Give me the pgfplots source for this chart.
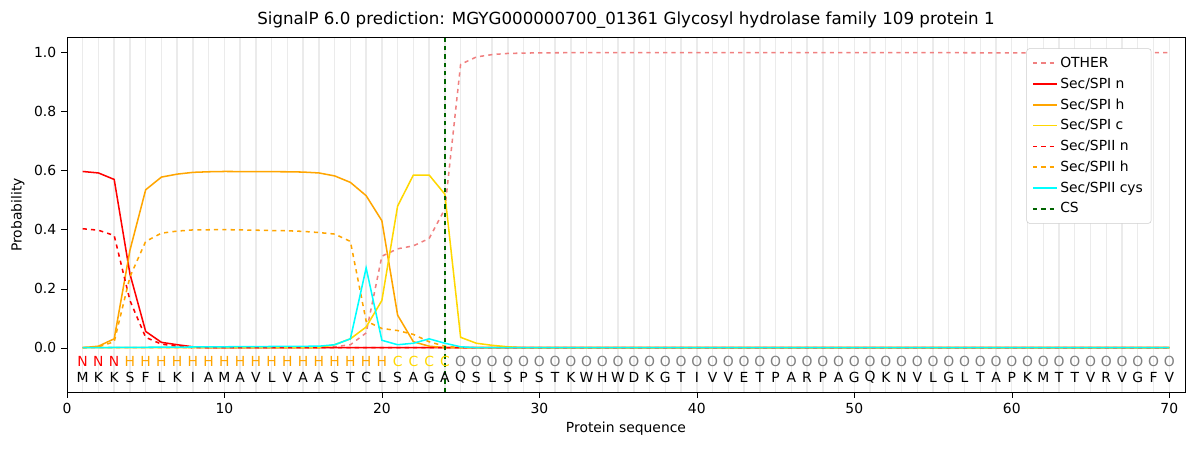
\documentclass[border=0pt]{standalone}
\usepackage{pgfplots}
\pgfplotsset{compat=1.18}
\usepackage{fontspec}
\setmainfont{DejaVu Sans}
\definecolor{cother}{HTML}{F08080}
\definecolor{corange}{HTML}{FFA500}
\definecolor{cgold}{HTML}{FFD700}
\definecolor{ccyan}{HTML}{00FFFF}
\definecolor{ccs}{HTML}{006400}
\begin{document}
\begin{tikzpicture}
\useasboundingbox (-48.2pt,-41.8pt) rectangle (815.8pt,282.2pt);
\begin{axis}[
  at={(0,0)}, anchor=south west, scale only axis,
  width=805pt, height=255pt,
  xmin=0, xmax=71, ymin=-0.15, ymax=1.05,
  xtick={0,10,...,70}, ytick={0,0.2,...,1.0},
  extra x ticks={1,...,70}, extra x tick labels={},
  extra x tick style={grid=major, major grid style={black!8, line width=1pt}, major tick length=0pt},
  yticklabel style={/pgf/number format/.cd,fixed,fixed zerofill,precision=1},
  /pgf/number format/assume math mode=true,
  tick label style={font=\fontsize{10}{12}\selectfont},
  tick align=outside, tick style={black}, xtick pos=bottom, ytick pos=left,
  xlabel={Protein sequence}, ylabel={Probability},
  xlabel style={yshift=5pt},
  label style={font=\fontsize{10}{12}\selectfont},
  title={SignalP 6.0 prediction: MGYG000000700\_01361 Glycosyl hydrolase family 109 protein 1},
  title style={font=\fontsize{12}{14}\selectfont, yshift=-3pt},
  legend pos=north east,
  legend style={font=\fontsize{10}{12}\selectfont, draw=black!20, rounded corners=2pt, row sep=2pt, inner sep=4pt},
  legend cell align=left,
  every axis plot/.append style={line width=1.1pt},
  clip=false,
]
\addplot[cother, dashed] coordinates {(1,0)(2,0)(3,0)(4,0)(5,0)(6,0)(7,0)(8,0)(9,0)(10,0)(11,0)(12,0)(13,0)(14,0)(15,0)(16,0)(17,0.003)(18,0.01)(19,0.05)(20,0.31)(21,0.335)(22,0.345)(23,0.37)(24,0.47)(25,0.96)(26,0.985)(27,0.993)(28,0.997)(29,0.998)(30,0.999)(35,1.0)(50,1.0)(60,0.999)(70,1.0)};
\addlegendentry{OTHER}
\addplot[red] coordinates {(1,0.597)(2,0.592)(3,0.57)(4,0.25)(5,0.055)(6,0.018)(7,0.01)(8,0.003)(9,0)(70,0)};
\addlegendentry{Sec/SPI n}
\addplot[corange] coordinates {(1,0)(2,0.005)(3,0.03)(4,0.33)(5,0.535)(6,0.578)(7,0.588)(8,0.594)(9,0.596)(10,0.597)(14,0.596)(15,0.595)(16,0.592)(17,0.582)(18,0.56)(19,0.515)(20,0.43)(21,0.11)(22,0.02)(23,0.005)(24,0)(70,0)};
\addlegendentry{Sec/SPI h}
\addplot[cgold] coordinates {(1,0)(16,0)(17,0.01)(18,0.03)(19,0.07)(20,0.16)(21,0.48)(22,0.585)(23,0.585)(24,0.52)(25,0.035)(26,0.015)(27,0.008)(28,0.003)(29,0)(70,0)};
\addlegendentry{Sec/SPI c}
\addplot[red, dashed] coordinates {(1,0.403)(2,0.398)(3,0.38)(4,0.16)(5,0.035)(6,0.012)(7,0.005)(8,0)(70,0)};
\addlegendentry{Sec/SPII n}
\addplot[corange, dashed] coordinates {(1,0)(2,0.003)(3,0.02)(4,0.24)(5,0.36)(6,0.388)(7,0.395)(8,0.399)(10,0.4)(14,0.396)(15,0.394)(16,0.39)(17,0.385)(18,0.36)(19,0.09)(20,0.065)(21,0.058)(22,0.045)(23,0.02)(24,0.005)(25,0)(70,0)};
\addlegendentry{Sec/SPII h}
\addplot[ccyan] coordinates {(1,0)(16,0.005)(17,0.01)(18,0.03)(19,0.27)(20,0.025)(21,0.01)(22,0.015)(23,0.03)(24,0.015)(25,0.003)(26,0)(70,0)};
\addlegendentry{Sec/SPII cys}
\addplot[ccs, dashed] coordinates {(24,-0.15)(24,1.05)};
\addlegendentry{CS}
\pgfplotsinvokeforeach{1,2,3}{\node[font=\fontsize{10}{12}\selectfont, text=red, inner sep=0] at (axis cs:#1,-0.047) {N};}
\pgfplotsinvokeforeach{4,...,20}{\node[font=\fontsize{10}{12}\selectfont, text=corange, inner sep=0] at (axis cs:#1,-0.047) {H};}
\pgfplotsinvokeforeach{21,...,24}{\node[font=\fontsize{10}{12}\selectfont, text=cgold, inner sep=0] at (axis cs:#1,-0.047) {C};}
\pgfplotsinvokeforeach{25,...,70}{\node[font=\fontsize{10}{12}\selectfont, text=gray, inner sep=0] at (axis cs:#1,-0.047) {O};}
\foreach \i/\a in {1/M,2/K,3/K,4/S,5/F,6/L,7/K,8/I,9/A,10/M,11/A,12/V,13/L,14/V,15/A,16/A,17/S,18/T,19/C,20/L,21/S,22/A,23/G,24/A,25/Q,26/S,27/L,28/S,29/P,30/S,31/T,32/K,33/W,34/H,35/W,36/D,37/K,38/G,39/T,40/I,41/V,42/V,43/E,44/T,45/P,46/A,47/R,48/P,49/A,50/G,51/Q,52/K,53/N,54/V,55/L,56/G,57/L,58/T,59/A,60/P,61/K,62/M,63/T,64/T,65/V,66/R,67/V,68/G,69/F,70/V} {
  \edef\tmp{\noexpand\node[font=\noexpand\fontsize{10}{12}\noexpand\selectfont, inner sep=0] at (axis cs:\i,-0.10) {\a};}\tmp
}
\end{axis}
\end{tikzpicture}
\end{document}
